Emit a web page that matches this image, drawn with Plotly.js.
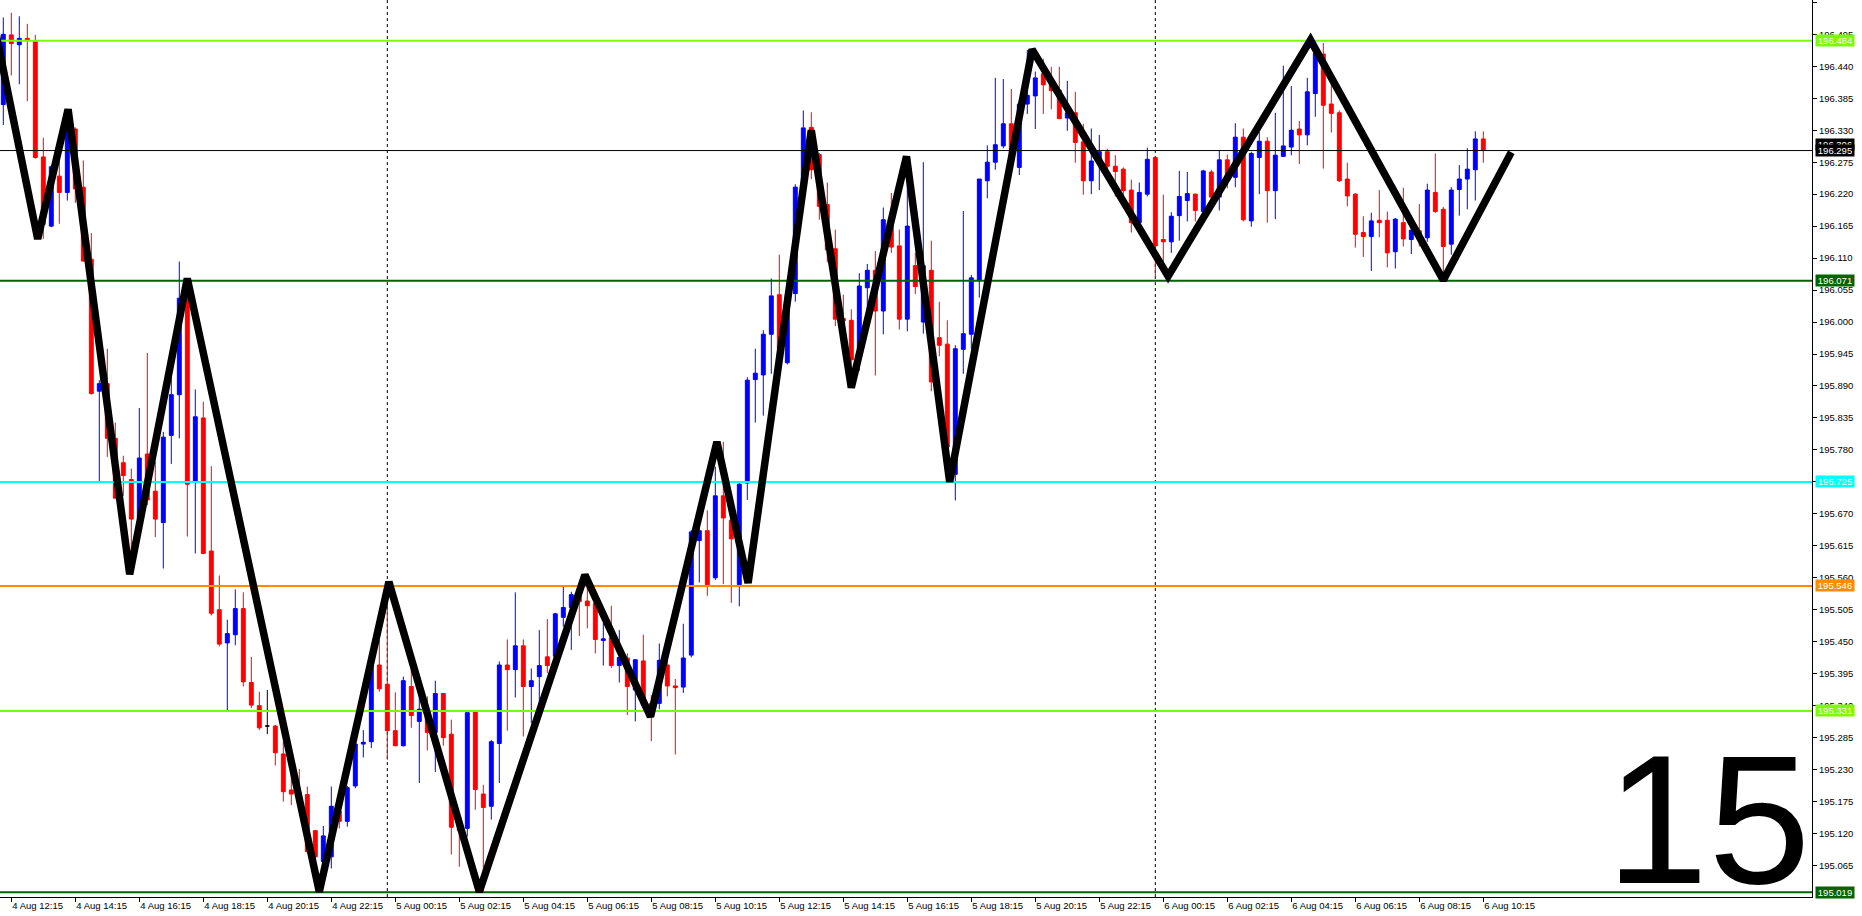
<!DOCTYPE html>
<html><head><meta charset="utf-8">
<script src="https://cdn.plot.ly/plotly-3.0.1.min.js"></script>
<style>html,body{margin:0;padding:0;background:#fff}#chart{width:1862px;height:916px}</style>
</head><body><div id="chart"></div>
<script>
// ---- data (15-minute bars, from 4 Aug 12:00) ----
const startTime = '2025-08-04 12:00';
const barMinutes = 15;
const openP = [
196.374,196.494,196.477,196.488,196.483,196.284,196.165,196.251,196.223,196.332,
196.232,196.108,195.881,195.894,195.800,195.758,195.729,195.663,195.773,195.709,
195.655,195.805,195.875,196.048,195.726,195.835,195.606,195.505,195.448,195.462,
195.507,195.380,195.340,195.305,195.305,195.257,195.195,195.190,195.187,195.125,
195.072,195.080,195.159,195.141,195.202,195.274,195.278,195.410,195.377,195.297,
195.271,195.373,195.313,195.333,195.294,195.361,195.291,195.140,195.129,195.330,
195.188,195.167,195.275,195.410,195.402,195.443,195.373,195.390,195.424,195.425,
195.492,195.509,195.531,195.520,195.516,195.452,195.457,195.409,195.422,195.367,
195.417,195.344,195.344,195.410,195.374,195.372,195.427,195.624,195.641,195.560,
195.701,195.659,195.548,195.723,195.901,195.909,195.979,196.047,195.930,196.049,
196.230,196.335,196.288,196.202,196.126,196.006,196.003,195.954,196.059,196.089,
196.019,196.180,196.131,196.005,196.097,196.000,196.089,195.973,195.962,195.738,
195.953,195.979,196.071,196.243,196.275,196.303,196.341,196.266,196.375,196.389,
196.427,196.412,196.399,196.351,196.360,196.310,196.243,196.277,196.293,196.268,
196.263,196.227,196.171,196.220,196.283,196.142,196.138,196.183,196.209,196.220,
196.190,196.258,196.215,196.279,196.249,196.318,196.174,196.283,196.311,196.226,
196.285,196.301,196.332,196.322,196.393,196.461,196.375,196.360,196.246,196.220,
196.154,196.147,196.175,196.175,196.121,196.171,196.142,196.157,196.145,196.223,
196.194,196.134,196.228,196.246,196.262,196.315];
const highP = [
196.524,196.532,196.526,196.513,196.494,196.317,196.270,196.279,196.366,196.335,
196.278,196.153,195.900,195.954,195.827,195.770,195.748,195.852,195.947,195.760,
195.811,195.906,196.104,196.075,195.884,195.863,195.752,195.564,195.488,195.540,
195.535,195.424,195.364,195.367,195.307,195.278,195.230,195.231,195.201,195.126,
195.133,195.201,195.167,195.202,195.275,195.298,195.413,195.453,195.550,195.363,
195.390,195.402,195.361,195.356,195.383,195.361,195.316,195.145,195.328,195.330,
195.204,195.281,195.416,195.454,195.535,195.454,195.404,195.470,195.489,195.500,
195.545,195.536,195.545,195.565,195.522,195.482,195.512,195.470,195.430,195.420,
195.462,195.358,195.447,195.430,195.386,195.481,195.642,195.651,195.676,195.751,
195.794,195.682,195.724,195.905,195.954,195.986,196.075,196.116,196.056,196.237,
196.364,196.361,196.291,196.240,196.159,196.047,196.022,196.084,196.100,196.122,
196.197,196.222,196.159,196.280,196.119,196.275,196.140,196.035,196.003,195.960,
196.191,196.081,196.246,196.304,196.420,196.418,196.401,196.382,196.468,196.431,
196.453,196.439,196.439,196.415,196.396,196.341,196.333,196.322,196.298,196.287,
196.266,196.245,196.240,196.300,196.284,196.219,196.189,196.260,196.258,196.221,
196.262,196.262,196.296,196.288,196.342,196.333,196.293,196.327,196.318,196.360,
196.441,196.406,196.346,196.420,196.485,196.480,196.410,196.364,196.274,196.222,
196.182,196.188,196.227,196.190,196.179,196.231,196.170,196.203,196.238,196.290,
196.198,196.232,196.270,196.299,196.328,196.328];
const lowP = [
196.339,196.424,196.409,196.380,196.281,196.143,196.163,196.169,196.209,196.205,
196.104,195.875,195.726,195.768,195.697,195.701,195.566,195.661,195.685,195.630,
195.576,195.756,195.800,195.631,195.602,195.602,195.495,195.442,195.330,195.444,
195.373,195.336,195.298,195.291,195.237,195.175,195.169,195.165,195.086,195.078,
195.030,195.060,195.129,195.132,195.198,195.251,195.267,195.364,195.247,195.271,
195.270,195.302,195.207,195.263,195.226,195.271,195.084,195.063,195.115,195.161,
195.020,195.144,195.207,195.297,195.354,195.287,195.310,195.339,195.396,195.419,
195.476,195.436,195.460,195.473,195.430,195.409,195.405,195.380,195.324,195.313,
195.339,195.279,195.334,195.356,195.256,195.362,195.423,195.552,195.529,195.556,
195.549,195.517,195.511,195.694,195.827,195.839,195.911,195.941,195.927,196.035,
196.227,196.246,196.176,196.103,195.993,195.992,195.890,195.916,196.024,195.908,
195.979,196.119,195.987,195.984,196.048,195.980,195.881,195.941,195.731,195.693,
195.911,195.954,196.042,196.213,196.262,196.299,196.284,196.253,196.358,196.332,
196.358,196.366,196.349,196.329,196.274,196.219,196.220,196.227,196.262,196.216,
196.216,196.154,196.164,196.216,196.079,196.095,196.119,196.140,196.173,196.173,
196.187,196.210,196.192,196.230,196.232,196.173,196.164,196.220,196.171,196.177,
196.284,196.287,196.272,196.304,196.353,196.264,196.326,196.241,196.199,196.128,
196.112,196.088,196.146,196.094,196.092,196.130,196.117,196.130,196.138,196.188,
196.075,196.116,196.183,196.194,196.209,196.274];
const closeP = [
196.495,196.479,196.488,196.484,196.283,196.168,196.267,196.223,196.337,196.229,
196.105,195.877,195.894,195.800,195.697,195.736,195.661,195.766,195.694,195.661,
195.802,195.875,196.041,195.721,195.837,195.602,195.499,195.446,195.464,195.507,
195.381,195.341,195.302,195.305,195.259,195.192,195.188,195.180,195.089,195.080,
195.116,195.167,195.141,195.199,195.274,195.277,195.410,195.369,195.297,195.271,
195.383,195.323,195.334,195.294,195.361,195.285,195.131,195.125,195.328,195.196,
195.165,195.278,195.410,195.402,195.443,195.373,195.383,195.409,195.409,195.498,
195.509,195.531,195.519,195.512,195.454,195.455,195.409,195.423,195.373,195.419,
195.341,195.333,195.418,195.374,195.371,195.422,195.639,195.641,195.548,195.701,
195.663,195.627,195.721,195.900,195.912,195.979,196.045,195.954,196.048,196.232,
196.334,196.262,196.199,196.124,196.005,196.002,195.935,196.062,196.089,196.019,
196.176,196.129,196.005,196.165,196.061,196.097,195.897,195.960,195.785,195.954,
195.980,196.076,196.246,196.275,196.305,196.341,196.290,196.375,196.390,196.420,
196.408,196.398,196.350,196.360,196.309,196.243,196.277,196.293,196.268,196.259,
196.226,196.171,196.223,196.280,196.131,196.138,196.182,196.216,196.221,196.192,
196.260,196.215,196.279,196.247,196.318,196.176,196.290,196.311,196.226,196.287,
196.303,196.330,196.322,196.396,196.462,196.373,196.359,196.243,196.217,196.151,
196.147,196.174,196.171,196.119,196.177,196.143,196.158,196.146,196.227,196.190,
196.130,196.227,196.246,196.263,196.315,196.295];

// ZigZag vertices
const zzTimes = ['2025-08-04 11:45','2025-08-04 13:04:30','2025-08-04 14:01:30','2025-08-04 15:57',
 '2025-08-04 17:45','2025-08-04 21:52:30','2025-08-05 00:03','2025-08-05 02:52:30','2025-08-05 06:10:30',
 '2025-08-05 08:13:30','2025-08-05 10:18','2025-08-05 11:16:30','2025-08-05 13:15','2025-08-05 14:30',
 '2025-08-05 16:13:30','2025-08-05 17:34:30','2025-08-05 20:09','2025-08-06 00:24','2025-08-06 04:51',
 '2025-08-06 09:00','2025-08-06 11:07:30'];
const zzPrices = [196.502,196.143,196.366,195.566,196.075,195.020,195.553,195.020,195.565,195.321,
 195.794,195.551,196.330,195.887,196.285,195.725,196.469,196.079,196.485,196.072,196.292];

// horizontal levels
const levelPrices = [196.484, 196.295, 196.071, 195.725, 195.546, 195.331, 195.019];
const levelColors = ['#7CFC00', '#000000', '#006400', '#00FFFF', '#FF8C00', '#7CFC00', '#006400'];
const levelWidths = [2, 1, 2, 2, 2, 2, 2];

// price tags on the right scale
const tagPrices = [196.484, 196.306, 196.295, 196.071, 195.725, 195.546, 195.331, 195.019];
const tagColors = ['#7CFC00', '#000000', '#000000', '#006400', '#00FFFF', '#FF8C00', '#7CFC00', '#006400'];

const daySeparators = ['2025-08-05 00:00', '2025-08-06 00:00'];
const periodLabel = '15';

// axis window
const xRange = ['2025-08-04 11:53:49', '2025-08-06 20:31:19'];
const yRange = [195.0109, 196.5540];

// ---- build ----
function fmt(d){const p=n=>String(n).padStart(2,'0');
  return d.getUTCFullYear()+'-'+p(d.getUTCMonth()+1)+'-'+p(d.getUTCDate())+' '+p(d.getUTCHours())+':'+p(d.getUTCMinutes());}
const t0 = Date.parse(startTime.replace(' ','T')+':00Z');
const times = openP.map((_,i)=>fmt(new Date(t0 + i*barMinutes*60000)));
const tickTimes = times.filter((_,i)=>i%8===1);

const idxMain = [], idxDoji = [];
openP.forEach((o,i)=>{ (o===closeP[i] ? idxDoji : idxMain).push(i); });
const pick = (arr, idx) => idx.map(i=>arr[i]);

const FONT = "'Liberation Sans', Arial, sans-serif";
const FS = 9.5;

const traces = [];
traces.push({
  type:'candlestick', x:pick(times,idxMain), open:pick(openP,idxMain), high:pick(highP,idxMain),
  low:pick(lowP,idxMain), close:pick(closeP,idxMain),
  increasing:{line:{color:'#0000FF',width:1}, fillcolor:'#0000FF'},
  decreasing:{line:{color:'#FF0000',width:1}, fillcolor:'#FF0000'},
  whiskerwidth:0, hoverinfo:'skip', showlegend:false
});
if(idxDoji.length){
  traces.push({
    type:'candlestick', x:pick(times,idxDoji), open:pick(openP,idxDoji), high:pick(highP,idxDoji),
    low:pick(lowP,idxDoji), close:pick(closeP,idxDoji),
    increasing:{line:{color:'#000000',width:1}, fillcolor:'#000000'},
    decreasing:{line:{color:'#000000',width:1}, fillcolor:'#000000'},
    whiskerwidth:0, hoverinfo:'skip', showlegend:false
  });
}
levelPrices.forEach((p,i)=>{
  traces.push({type:'scatter', mode:'lines', x:['2025-08-04 00:00','2025-08-07 00:00'], y:[p,p],
    line:{color:levelColors[i], width:levelWidths[i]}, hoverinfo:'skip', showlegend:false});
});
traces.push({type:'scatter', mode:'lines', x:zzTimes, y:zzPrices,
  line:{color:'#000000', width:7.5}, hoverinfo:'skip', showlegend:false});

const annotations = tagPrices.map((p,i)=>({
  xref:'paper', x:1, xanchor:'left', xshift:3, yref:'y', y:p, yanchor:'middle',
  text:p.toFixed(3), showarrow:false, bgcolor:tagColors[i], borderpad:0, width:38, height:11,
  font:{color:'#FFFFFF', size:FS, family:FONT}
}));
annotations.push({xref:'paper', yref:'paper', x:1, y:0.0864, xanchor:'right', yanchor:'middle',
  height:150, valign:'middle', borderpad:0,
  text:periodLabel, showarrow:false, font:{color:'#000000', size:184, family:"'Liberation Sans', Arial, sans-serif"}});

const shapes = daySeparators.map(t=>({type:'line', xref:'x', x0:t, x1:t, yref:'paper', y0:0, y1:1,
  line:{color:'#000000', width:1, dash:'3px,3px'}, layer:'below'}));

const layout = {
  width:1862, height:916, margin:{l:0, r:50, t:0, b:19, pad:0},
  paper_bgcolor:'#FFFFFF', plot_bgcolor:'#FFFFFF', showlegend:false,
  font:{family:FONT, size:FS, color:'#000'},
  xaxis:{type:'date', range:xRange, tickmode:'array', tickvals:tickTimes, tickformat:'%-d %b %H:%M',
    tickangle:0, ticks:'outside', ticklen:4, tickcolor:'#000', tickwidth:1, showgrid:false, zeroline:false,
    showline:true, linecolor:'#000', linewidth:1, ticklabelposition:'outside right',
    tickfont:{family:FONT, size:FS, color:'#000'}, rangeslider:{visible:false}, fixedrange:true},
  yaxis:{side:'right', range:yRange, tick0:195.010, dtick:0.055, tickformat:'.3f',
    ticks:'outside', ticklen:4, tickcolor:'#000', tickwidth:1, showgrid:false, zeroline:false,
    showline:true, linecolor:'#000', linewidth:1, tickfont:{family:FONT, size:FS, color:'#000'}, fixedrange:true},
  shapes, annotations
};
Plotly.newPlot('chart', traces, layout, {staticPlot:true, displayModeBar:false});
</script>
</body></html>
